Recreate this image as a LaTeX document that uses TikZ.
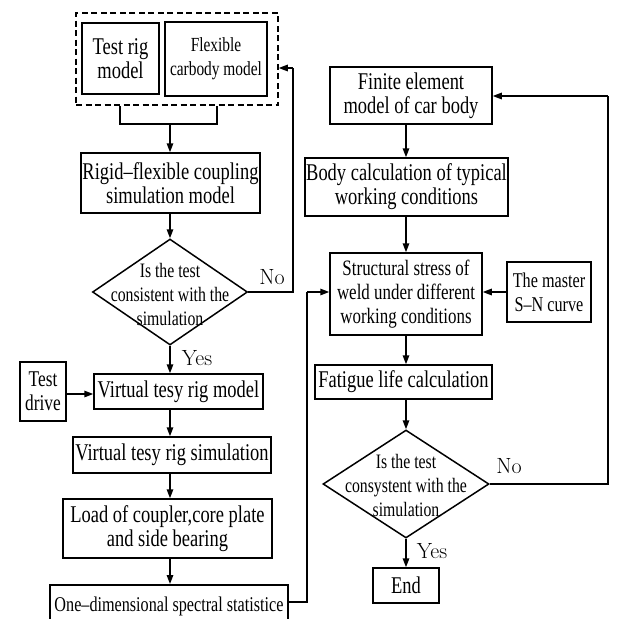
\documentclass[tikz,border=0pt]{standalone}
\usepackage{fontspec}
\newfontfamily\tfont{Liberation Serif}[FakeStretch=0.77, Ligatures=TeX]
\usetikzlibrary{shapes.geometric,arrows.meta}
\newcommand{\fs}[1]{\tfont\fontsize{#1}{24}\selectfont}
\begin{document}
\tikzset{
  box/.style={draw, line width=1.5pt, inner sep=0pt, align=center, font=\fs{24}},
  dia/.style={draw, diamond, line width=1.5pt, inner sep=0pt},
  diatext/.style={align=center, inner sep=0pt, font=\fs{20.5}},
  arr/.style={line width=1.5pt, -{Triangle[length=9pt,width=6.5pt]}},
  ln/.style={line width=1.5pt},
  lbl/.style={font=\fontsize{22}{24}\selectfont, inner sep=0pt},
  grpbox/.style={draw, line width=1.5pt, dash pattern=on 6pt off 3.5pt, inner sep=0pt}
}
\begin{tikzpicture}[x=1pt,y=-1pt]
\useasboundingbox (0,0) rectangle (617,619);
\clip (0,0) rectangle (617,619);
% left column
\node[grpbox, minimum width=202pt, minimum height=92pt] (grp) at (177,59) {};
\node[box, minimum width=77pt, minimum height=71pt] (rig) at (120.5,58.5) {Test rig\\model};
\node[box, minimum width=102pt, minimum height=74pt, font=\fs{20}] (flex) at (216,59) {Flexible\\carbody model};
\node[box, minimum width=179pt, minimum height=60pt] (rigid) at (170.5,183) {Rigid--flexible coupling\\simulation model};
\node[dia, minimum width=155pt, minimum height=106pt] (d1) at (170,292) {};
\node[diatext] (d1t) at (170,294) {Is the test\\consistent with the\\simulation};
\node[box, minimum width=169pt, minimum height=35pt] (vmodel) at (178.5,391.5) {Virtual tesy rig model};
\node[box, minimum width=46pt, minimum height=59pt, font=\fs{22.5}] (drive) at (43,391.5) {Test\\drive};
\node[box, minimum width=198pt, minimum height=36pt] (vsim) at (172,455) {Virtual tesy rig simulation};
\node[box, minimum width=209pt, minimum height=59pt] (load) at (167.5,528.5) {Load of coupler,core plate\\and side bearing};
\node[box, minimum width=238pt, minimum height=44pt, font=\fs{21}, anchor=north] (onedim) at (169,584) {One--dimensional spectral statistice};
% right column
\node[box, minimum width=162pt, minimum height=57pt] (fem) at (411,95.5) {Finite element\\model of car body};
\node[box, minimum width=203pt, minimum height=58pt] (body) at (406.5,187) {Body calculation of typical\\working conditions};
\node[box, minimum width=152pt, minimum height=82pt, font=\fs{22}] (stress) at (406,294) {Structural stress of\\weld under different\\working conditions};
\node[box, minimum width=84pt, minimum height=60pt, font=\fs{21}] (master) at (549,292) {The master\\S--N curve};
\node[box, minimum width=177pt, minimum height=34pt] (fat) at (403.5,382) {Fatigue life calculation};
\node[dia, minimum width=166pt, minimum height=108pt] (d2) at (406,484) {};
\node[diatext] (d2t) at (406,485) {Is the test\\consystent with the\\simulation};
\node[box, minimum width=66pt, minimum height=35pt] (end) at (406,585.5) {End};
% labels
\node[lbl] (no1) at (272,277) {No};
\node[lbl] (yes1) at (197,358) {Yes};
\node[lbl] (no2) at (509,466) {No};
\node[lbl] (yes2) at (432,551) {Yes};
% coordinates
\coordinate (cx) at (170,0);
\coordinate (rx) at (406,0);
\coordinate (b1) at (120,124);
\coordinate (b2) at (217,124);
\coordinate (bm) at (170,124);
\coordinate (l1) at (293,292);
\coordinate (l2) at (293,68);
\coordinate (r1) at (608,484);
\coordinate (r2) at (608,96);
\coordinate (o1) at (307,602);
\coordinate (o2) at (307,292);
% connectors left
\draw[ln] (b1 |- grp.south) -- (b1) -- (b2) -- (b2 |- grp.south);
\draw[arr] (bm) -- (bm |- rigid.north);
\draw[arr] (cx |- rigid.south) -- (d1.north);
\draw[arr] (d1.south) -- (cx |- vmodel.north);
\draw[arr] (drive.east |- 0,394) -- (vmodel.west |- 0,394);
\draw[arr] (cx |- vmodel.south) -- (cx |- vsim.north);
\draw[arr] (cx |- vsim.south) -- (cx |- load.north);
\draw[arr] (cx |- load.south) -- (cx |- onedim.north);
\draw[ln] (d1.east) -- (l1) -- (l2);
\draw[arr] (l2) -- (grp.east |- l2);
\draw[ln] (onedim.east |- o1) -- (o1) -- (o2);
\draw[arr] (o2) -- (stress.west |- o2);
% connectors right
\draw[arr] (rx |- fem.south) -- (rx |- body.north);
\draw[arr] (rx |- body.south) -- (rx |- stress.north);
\draw[arr] (master.west) -- (stress.east |- master.west);
\draw[arr] (rx |- stress.south) -- (rx |- fat.north);
\draw[arr] (rx |- fat.south) -- (d2.north);
\draw[arr] (d2.south) -- (end.north);
\draw[ln] (d2.east) -- (r1) -- (r2);
\draw[arr] (r2) -- (fem.east |- r2);
\end{tikzpicture}
\end{document}
